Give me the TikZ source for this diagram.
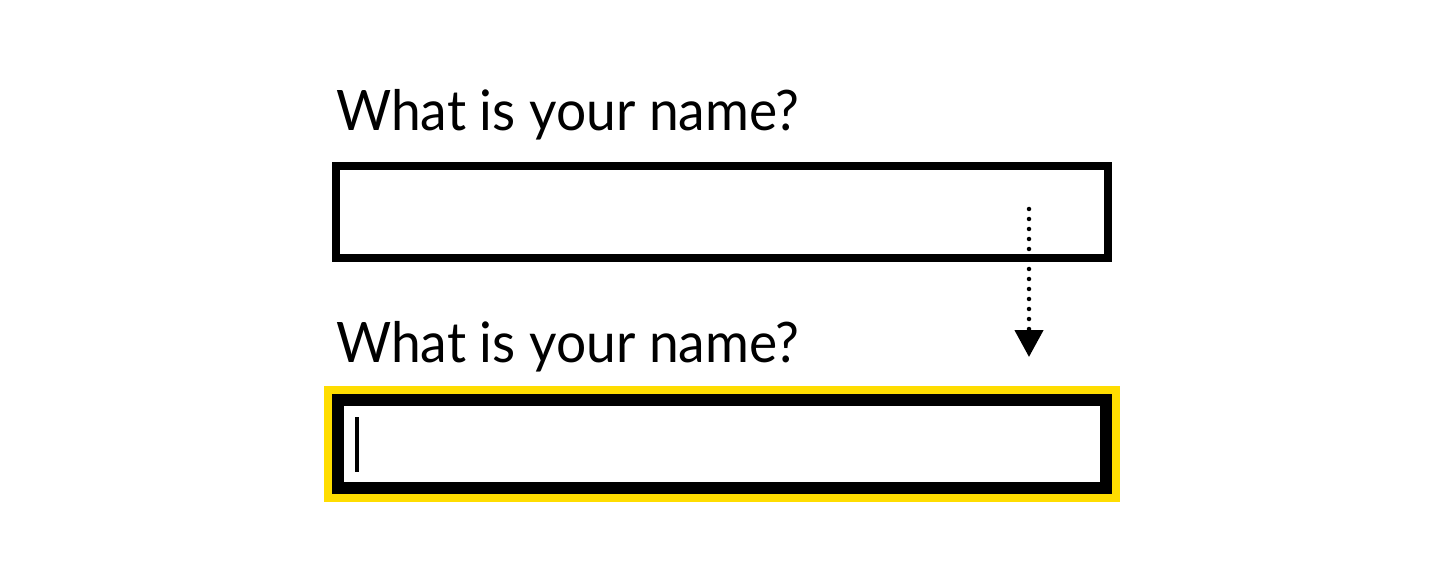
\documentclass[tikz,border=0pt]{standalone}
\usepackage{fontspec}
\setmainfont[FakeStretch=0.955]{Lato}
\usetikzlibrary{arrows.meta}
\tikzset{
  x=1pt,y=1pt,
  label text/.style={anchor=base west, inner sep=0pt, font=\fontsize{55.8}{60}\selectfont},
  field/.style={draw=black, fill=white, line width=8pt, inner sep=0pt},
  focusfield/.style={draw=black, fill=white, line width=12pt, inner sep=0pt},
  focusring/.style={fill={rgb,255:red,255;green,221;blue,0}, draw=none, inner sep=0pt},
  caret/.style={fill=black, draw=none, inner sep=0pt, minimum width=4pt, minimum height=55pt},
  flow/.style={line width=4.5pt, line cap=round, dash pattern=on 0pt off 10pt,
    -{Triangle[width=28pt,length=27pt]}},
}
\begin{document}
\begin{tikzpicture}
\useasboundingbox (0,0) rectangle (1444,-580);
\fill[white] (0,0) rectangle (1444,-580);
\node[label text] (q1) at (336,-130.7) {What is your name?};
\node[field, minimum width=772pt, minimum height=92pt] (box1) at (722,-212) {};
\node[label text] (q2) at (336,-362) {What is your name?};
\node[focusring, minimum width=796pt, minimum height=116pt] (ring) at (722,-444) {};
\node[focusfield, minimum width=768pt, minimum height=88pt] (box2) at (722,-444) {};
\node[caret] (cur) at (357,-444.5) {};
\coordinate (s) at (1029,-209);
\coordinate (e) at (1029,-357);
\draw[flow] (s) -- (e);
\end{tikzpicture}
\end{document}
